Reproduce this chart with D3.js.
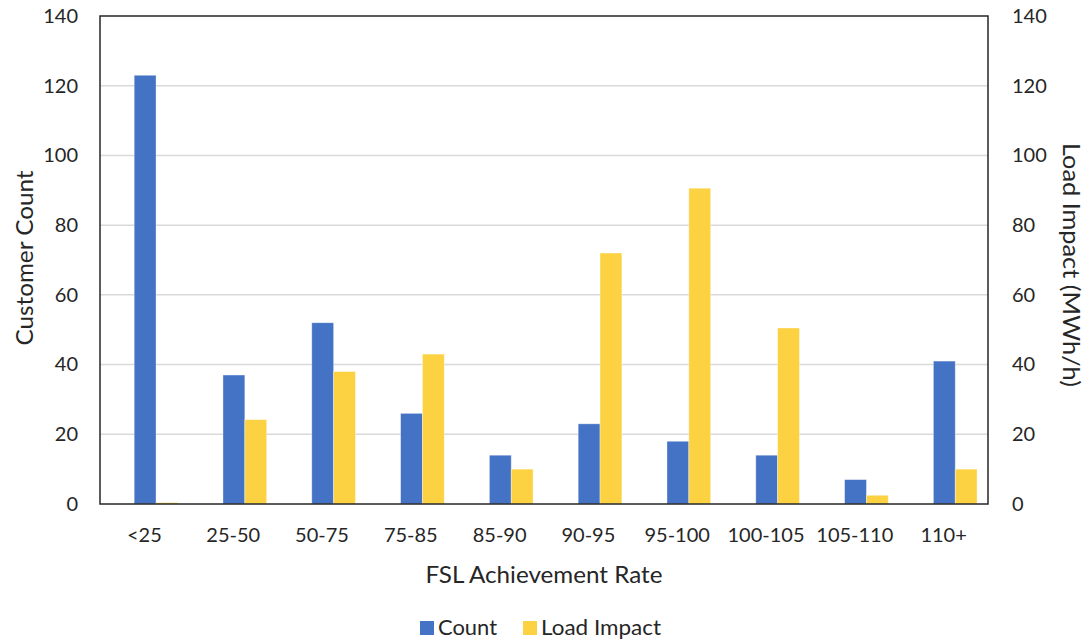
<!DOCTYPE html>
<html>
<head>
<meta charset="utf-8">
<script src="https://cdn.jsdelivr.net/npm/d3@7/dist/d3.min.js"></script>
<style>
  html, body { margin: 0; padding: 0; background: #fff; }
  svg text { font-family: Lato, "Open Sans", sans-serif; fill: #262626; }
</style>
</head>
<body>
<svg id="chart" width="1089" height="641"></svg>
<script>
const categories = ["<25", "25-50", "50-75", "75-85", "85-90", "90-95", "95-100", "100-105", "105-110", "110+"];
const countValues = [123, 37, 52, 26, 14, 23, 18, 14, 7, 41];
const loadImpactValues = [0.4, 24.2, 38, 43, 10, 72, 90.6, 50.5, 2.5, 10];
const leftTicks = [0, 20, 40, 60, 80, 100, 120, 140];
const rightTicks = [0, 20, 40, 60, 80, 100, 120, 140];
const seriesNames = ["Count", "Load Impact"];
const seriesColors = ["#4472C4", "#FCD243"];

const svg = d3.select("#chart");
const m = { left: 100, right: 988, top: 16, bottom: 504 };

const x0 = d3.scaleBand().domain(categories).range([m.left, m.right]).padding(0);
const bw = x0.bandwidth();
const x1 = d3.scaleBand().domain(seriesNames).range([bw * 0.385, bw * 0.877]).padding(0);
const yL = d3.scaleLinear().domain([0, 140]).range([m.bottom, m.top]);
const yR = d3.scaleLinear().domain([0, 140]).range([m.bottom, m.top]);

// gridlines
svg.append("g").selectAll("line").data(leftTicks.filter(t => t > 0 && t < 140)).join("line")
  .attr("x1", m.left).attr("x2", m.right)
  .attr("y1", d => yL(d)).attr("y2", d => yL(d))
  .attr("stroke", "#D9D9D9").attr("stroke-width", 1.5);

// bars
const data = categories.map((c, i) => ({ c, vals: [
  { s: "Count", v: countValues[i], y: yL },
  { s: "Load Impact", v: loadImpactValues[i], y: yR }
]}));
const groups = svg.append("g").selectAll("g").data(data).join("g")
  .attr("transform", d => `translate(${x0(d.c)},0)`);
groups.selectAll("rect").data(d => d.vals).join("rect")
  .attr("x", d => x1(d.s))
  .attr("width", x1.bandwidth())
  .attr("y", d => d.y(d.v))
  .attr("height", d => m.bottom - d.y(d.v))
  .attr("fill", (d, i) => seriesColors[i])
  .attr("stroke", "rgba(255,255,255,0.45)").attr("stroke-width", 0.8);

// plot border
svg.append("rect").attr("x", m.left).attr("y", m.top)
  .attr("width", m.right - m.left).attr("height", m.bottom - m.top)
  .attr("fill", "none").attr("stroke", "#262626").attr("stroke-width", 1.5);

// left axis
const leftAxis = d3.axisLeft(yL).tickValues(leftTicks).tickSize(0).tickPadding(22);
const gl = svg.append("g").attr("transform", `translate(${m.left},0)`).call(leftAxis);
gl.select(".domain").remove();
gl.selectAll("text").style("font-size", "20px").style("font-family", "Lato, sans-serif").attr("fill", "#262626");

// right axis
const rightAxis = d3.axisRight(yR).tickValues(rightTicks).tickSize(0).tickPadding(24);
const gr = svg.append("g").attr("transform", `translate(${m.right},0)`).call(rightAxis);
gr.select(".domain").remove();
gr.selectAll("text").style("font-size", "20px").style("font-family", "Lato, sans-serif").attr("fill", "#262626");

// bottom axis
const bottomAxis = d3.axisBottom(x0).tickSize(0).tickPadding(24);
const gb = svg.append("g").attr("transform", `translate(0,${m.bottom})`).call(bottomAxis);
gb.select(".domain").remove();
gb.selectAll("text").style("font-size", "20px").style("font-family", "Lato, sans-serif").attr("fill", "#262626");

// axis titles
svg.append("text").attr("transform", `translate(33,258) rotate(-90)`)
  .attr("text-anchor", "middle").style("font-size", "23px")
  .attr("textLength", 175).attr("lengthAdjust", "spacingAndGlyphs").text("Customer Count");
svg.append("text").attr("transform", `translate(1063,265) rotate(90)`)
  .attr("text-anchor", "middle").style("font-size", "23px")
  .attr("textLength", 244).attr("lengthAdjust", "spacingAndGlyphs").text("Load Impact (MWh/h)");
svg.append("text").attr("x", (m.left + m.right) / 2).attr("y", 583)
  .attr("text-anchor", "middle").style("font-size", "23px")
  .attr("textLength", 237).attr("lengthAdjust", "spacingAndGlyphs").text("FSL Achievement Rate");

// legend
const legendItems = [{ name: seriesNames[0], color: seriesColors[0], x: 420, w: 59 }, { name: seriesNames[1], color: seriesColors[1], x: 523, w: 120 }];
const lg = svg.append("g").selectAll("g").data(legendItems).join("g")
  .attr("transform", d => `translate(${d.x},621)`);
lg.append("rect").attr("width", 14).attr("height", 14).attr("fill", d => d.color);
lg.append("text").attr("x", 18).attr("y", 14).style("font-size", "21px")
  .attr("textLength", d => d.w).attr("lengthAdjust", "spacingAndGlyphs").text(d => d.name);
</script>
</body>
</html>
